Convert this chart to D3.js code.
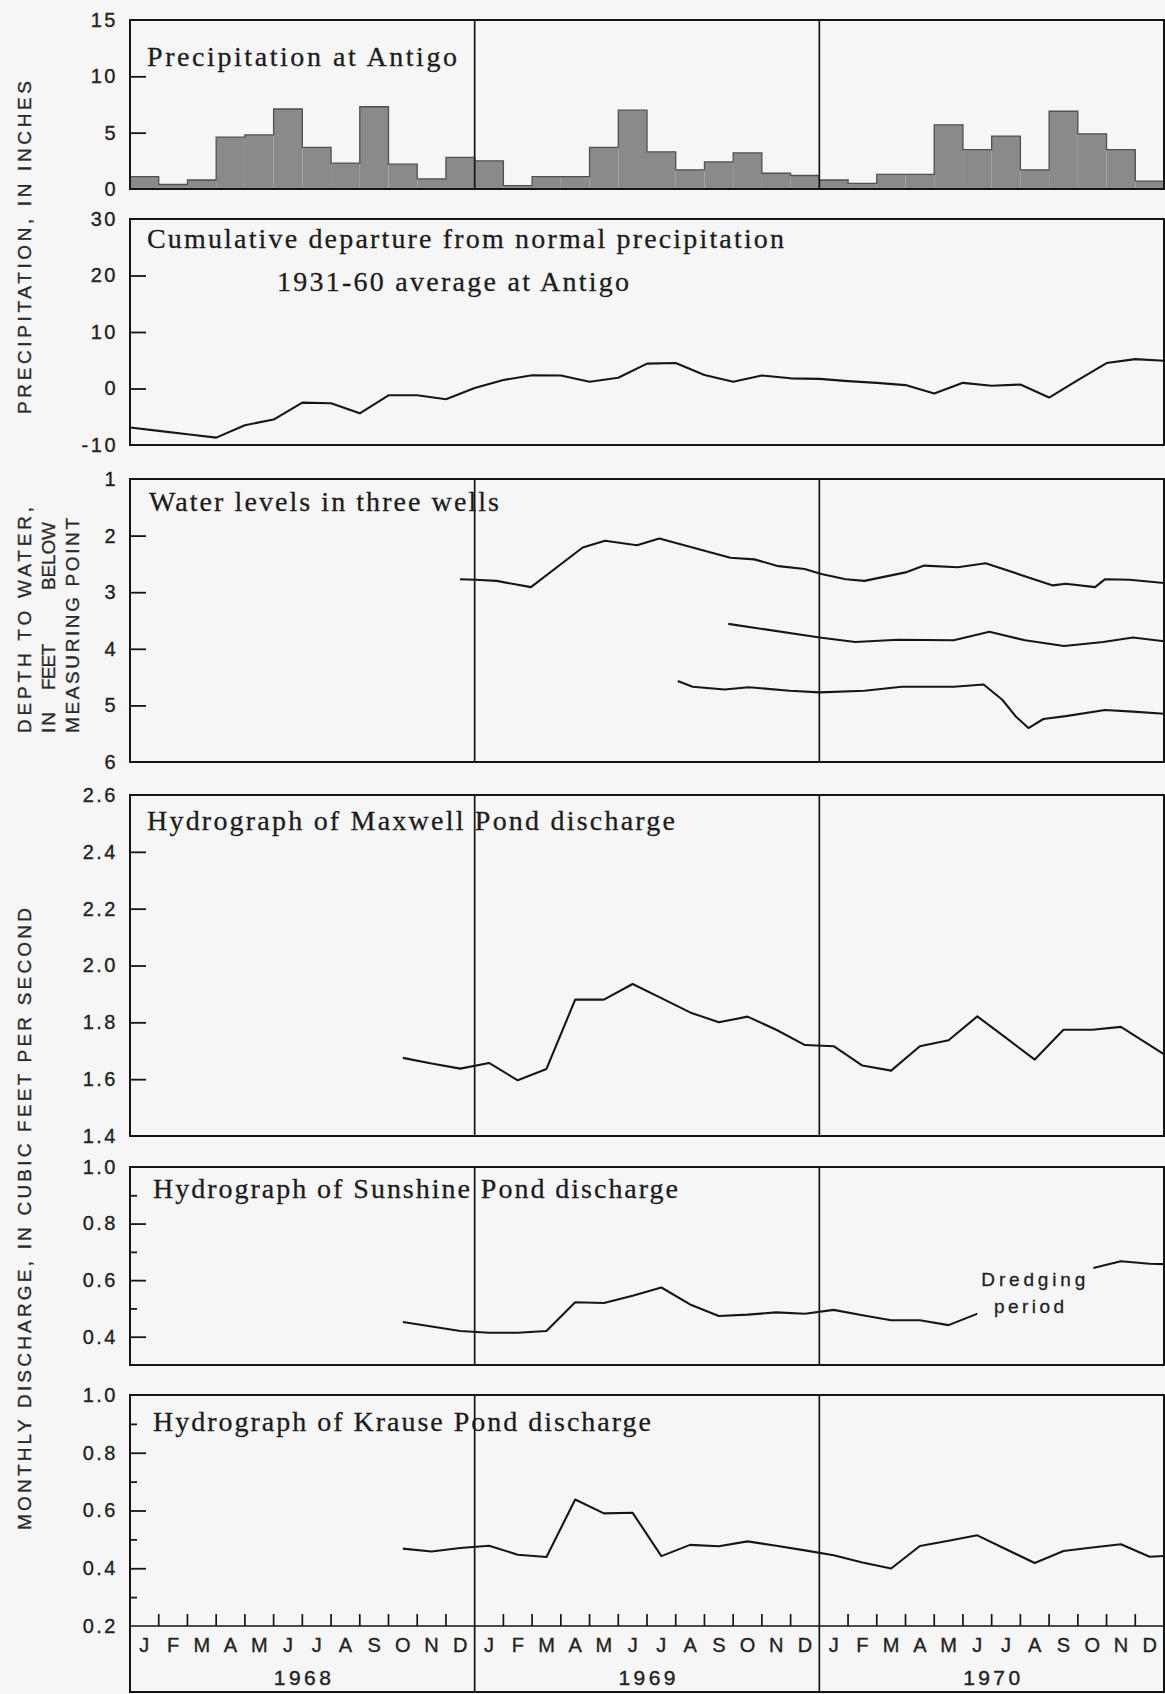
<!DOCTYPE html>
<meta charset="utf-8">
<style>

    body {
        margin: 0;
        background: #f6f6f6;
    }

    svg {
        display: block;
    }

    .frame {
        fill: none;
        stroke: #151515;
        stroke-width: 2;
    }

    .divider, .month-tick {
        stroke: #151515;
        stroke-width: 1.7;
    }

    .tick-marks line {
        stroke: #151515;
        stroke-width: 1.8;
    }

    .tick-labels text {
        font-family: "Liberation Sans", Arial, sans-serif;
        font-size: 20px;
        letter-spacing: 2.5px;
        fill: #222;
        stroke: #222;
        stroke-width: 0.35;
    }

    .bar {
        fill: #8a8a8a;
    }

    .bar-top {
        fill: none;
        stroke: #505050;
        stroke-width: 1.3;
    }

    .series {
        fill: none;
        stroke: #161616;
        stroke-width: 2.1;
        stroke-linejoin: round;
    }

    .title {
        font-family: "Liberation Serif", "Times New Roman", serif;
        font-size: 28px;
        fill: #1c1c1c;
        stroke: #1c1c1c;
        stroke-width: 0.3;
    }

    .axis-title {
        font-family: "Liberation Sans", Arial, sans-serif;
        font-size: 19px;
        fill: #2a2a2a;
        stroke: #2a2a2a;
        stroke-width: 0.35;
    }

    .month-label {
        font-family: "Liberation Sans", Arial, sans-serif;
        font-size: 20px;
        fill: #222;
        stroke: #222;
        stroke-width: 0.35;
    }

    .year-label {
        font-family: "Liberation Sans", Arial, sans-serif;
        font-size: 21px;
        fill: #222;
        stroke: #222;
        stroke-width: 0.4;
    }

    .note {
        font-family: "Liberation Sans", Arial, sans-serif;
        font-size: 19px;
        fill: #222;
        stroke: #222;
        stroke-width: 0.3;
    }

    .knockout {
        fill: #f6f6f6;
    }

</style>
<body>
<script src="https://d3js.org/d3.v7.min.js"></script>
<script>
    // month index 0 = January 1968, 36 = January 1971
    var monthLetters = ["J", "F", "M", "A", "M", "J", "J", "A", "S", "O", "N", "D"];
    var yearLabels = ["1968", "1969", "1970"];

    // monthly precipitation at Antigo, inches (Jan 1968 - Dec 1970)
    var precipInches = [
        1.1, 0.4, 0.8, 4.6, 4.8, 7.1, 3.7, 2.3, 7.3, 2.2, 0.9, 2.8,
        2.5, 0.3, 1.1, 1.1, 3.7, 7.0, 3.3, 1.7, 2.4, 3.2, 1.4, 1.2,
        0.8, 0.5, 1.3, 1.3, 5.7, 3.5, 4.7, 1.7, 6.9, 4.9, 3.5, 0.7
    ];

    // cumulative departure at end of each month (index 0 = 1 Jan 1968)
    var departureInches = [
        -6.9, -7.5, -8.1, -8.7, -6.5, -5.5, -2.5, -2.6, -4.4, -1.2, -1.2, -1.9,
        0.1, 1.5, 2.35, 2.3, 1.2, 1.9, 4.4, 4.5, 2.4, 1.2, 2.3, 1.8,
        1.7, 1.3, 1.0, 0.6, -0.9, 1.0, 0.5, 0.7, -1.6, 1.5, 4.5, 5.2, 4.9
    ];

    // wells: measurement time (month index) and depth to water (feet)
    var well1Time = [11.49, 12.03, 12.76, 13.96, 15.76, 16.54, 17.65, 18.43, 20.9, 21.74, 22.58, 23.49,
        24.07, 24.92, 25.57, 27.0, 27.65, 28.82, 29.79, 32.13, 32.58, 33.6, 33.95, 34.8, 36.06];
    var well1Depth = [2.77, 2.78, 2.80, 2.91, 2.21, 2.09, 2.17, 2.05, 2.39, 2.42, 2.54, 2.59,
        2.68, 2.77, 2.80, 2.65, 2.53, 2.56, 2.49, 2.88, 2.85, 2.91, 2.77, 2.78, 2.84];

    var well2Time = [20.83, 24.01, 25.25, 26.74, 28.68, 29.92, 31.16, 32.52, 33.88, 34.92, 36.06];
    var well2Depth = [3.56, 3.80, 3.88, 3.84, 3.85, 3.70, 3.85, 3.95, 3.88, 3.80, 3.87];

    var well3Time = [19.07, 19.59, 20.70, 21.54, 22.97, 24.01, 25.57, 26.87, 28.68, 29.72, 30.37, 30.83,
        31.28, 31.80, 32.58, 33.95, 34.92, 36.06];
    var well3Depth = [4.57, 4.67, 4.72, 4.68, 4.74, 4.77, 4.74, 4.67, 4.67, 4.63, 4.90, 5.19,
        5.40, 5.24, 5.19, 5.08, 5.11, 5.15];

    // monthly pond discharge, cfs, Oct 1968 - Jan 1971 (plotted mid-month)
    var dischargeFirstMonth = 9;
    var maxwellCfs = [1.675, 1.655, 1.637,
        1.657, 1.596, 1.636, 1.88, 1.88, 1.935, 1.885, 1.835, 1.80, 1.82, 1.774, 1.72,
        1.716, 1.648, 1.630, 1.716, 1.737, 1.821, 1.745, 1.669, 1.774, 1.774, 1.784, 1.72,
        1.655];
    var sunshineCfs = [0.452, 0.436, 0.42,
        0.414, 0.414, 0.42, 0.522, 0.519, 0.545, 0.574, 0.514, 0.473, 0.478, 0.486, 0.481,
        0.495, 0.476, 0.458, 0.458, 0.441, null, null, null, null, 0.642, 0.667, 0.658,
        0.655];
    var krauseCfs = [0.468, 0.458, 0.47,
        0.478, 0.447, 0.439, 0.638, 0.59, 0.592, 0.442, 0.481, 0.476, 0.493, 0.478, 0.462,
        0.445, 0.42, 0.399, 0.477, 0.495, 0.514, 0.466, 0.418, 0.46, 0.472, 0.483, 0.44,
        0.445];

    var width = 1165, height = 1694;
    var bottomEdge = 1692;

    var x = d3.scaleLinear()
            .domain([0, 36])
            .range([130, 1164]);

    var svg = d3.select("body").append("svg")
            .attr("width", width)
            .attr("height", height);

    var defs = svg.append("defs");

    function zip(a, b) {
        return a.map(function (d, i) { return [d, b[i]]; });
    }

    function monthly(values) {
        return values.map(function (v, i) { return [dischargeFirstMonth + i + 0.5, v]; })
                .filter(function (d) { return d[1] !== null; });
    }

    function addPanel(p) {
        var y = d3.scaleLinear().domain(p.domain).range(p.range);
        var top = Math.min(p.range[0], p.range[1]);
        var bottom = Math.max(p.range[0], p.range[1]);
        var frameBottom = p.frameBottom || bottom;

        var g = svg.append("g").attr("class", "panel " + p.id);

        defs.append("clipPath")
                .attr("id", "clip-" + p.id)
            .append("rect")
                .attr("x", x(0))
                .attr("y", top)
                .attr("width", x(36) - x(0))
                .attr("height", bottom - top);

        var plot = g.append("g")
                .attr("clip-path", "url(#clip-" + p.id + ")");

        if (p.dividers) {
            g.selectAll("line.divider")
                    .data([12, 24])
                .enter().append("line")
                    .attr("class", "divider")
                    .attr("x1", x)
                    .attr("x2", x)
                    .attr("y1", top)
                    .attr("y2", frameBottom);
        }

        g.append("g")
                .attr("class", "tick-marks")
                .attr("transform", "translate(" + x(0) + ",0)")
                .call(d3.axisRight(y).tickValues(p.major).tickSize(16).tickFormat(""))
                .call(function (a) { a.select(".domain").remove(); });

        if (p.minor) {
            g.append("g")
                    .attr("class", "tick-marks")
                    .attr("transform", "translate(" + x(0) + ",0)")
                    .call(d3.axisRight(y).tickValues(p.minor).tickSize(7).tickFormat(""))
                    .call(function (a) { a.select(".domain").remove(); });
        }

        g.append("g")
                .attr("class", "tick-labels")
                .attr("transform", "translate(" + x(0) + ",0)")
                .call(d3.axisLeft(y).tickValues(p.labels).tickSize(0).tickPadding(12).tickFormat(p.format))
                .call(function (a) {
                    a.select(".domain").remove();
                    a.attr("font-size", null).attr("font-family", null);
                });

        g.append("rect")
                .attr("class", "frame")
                .attr("x", x(0))
                .attr("y", top)
                .attr("width", x(36) - x(0))
                .attr("height", frameBottom - top);

        p.titles.forEach(function (t) {
            g.append("text")
                    .attr("class", "title")
                    .attr("x", t.x)
                    .attr("y", t.y)
                    .attr("textLength", t.len)
                    .attr("lengthAdjust", "spacing")
                    .text(t.text);
        });

        return {g: g, plot: plot, y: y};
    }

    var intFormat = function (d) { return String(d); };
    var oneDecimal = function (d) { return d.toFixed(1); };

    // --- precipitation bars
    var p1 = addPanel({
        id: "precip", domain: [0, 15], range: [189, 20], dividers: true,
        major: [5, 10], labels: [0, 5, 10, 15], format: intFormat,
        titles: [{text: "Precipitation at Antigo", x: 147, y: 66, len: 310}]
    });

    p1.plot.selectAll("rect.bar")
            .data(precipInches)
        .enter().append("rect")
            .attr("class", "bar")
            .attr("x", function (d, i) { return x(i); })
            .attr("width", function (d, i) { return x(i + 1) - x(i); })
            .attr("y", function (d) { return p1.y(d); })
            .attr("height", function (d) { return p1.y(0) - p1.y(d); });

    var stepData = precipInches.map(function (d, i) { return [i, d]; });
    stepData.push([36, precipInches[35]]);
    p1.plot.append("path")
            .attr("class", "bar-top")
            .attr("d", d3.line()
                .curve(d3.curveStepAfter)
                .x(function (d) { return x(d[0]); })
                .y(function (d) { return p1.y(d[1]); })(stepData));
    p1.g.selectAll(".divider").raise();

    // --- cumulative departure
    var p2 = addPanel({
        id: "departure", domain: [-10, 30], range: [445, 219], dividers: false,
        major: [0, 10, 20], labels: [-10, 0, 10, 20, 30], format: intFormat,
        titles: [
            {text: "Cumulative departure from normal precipitation", x: 147, y: 248, len: 637},
            {text: "1931-60 average at Antigo", x: 277, y: 291, len: 352}
        ]
    });

    p2.plot.append("path")
            .attr("class", "series")
            .attr("d", d3.line()
                .x(function (d, i) { return x(i); })
                .y(function (d) { return p2.y(d); })(departureInches));

    // --- water levels
    var p3 = addPanel({
        id: "wells", domain: [1, 6], range: [479, 762], dividers: true,
        major: [2, 3, 4, 5], labels: [1, 2, 3, 4, 5, 6], format: intFormat,
        titles: [{text: "Water levels in three wells", x: 149, y: 511, len: 350}]
    });

    var wellLine = d3.line()
            .x(function (d) { return x(d[0]); })
            .y(function (d) { return p3.y(d[1]); });

    p3.plot.selectAll("path.series")
            .data([zip(well1Time, well1Depth), zip(well2Time, well2Depth), zip(well3Time, well3Depth)])
        .enter().append("path")
            .attr("class", "series")
            .attr("d", wellLine);

    // --- Maxwell Pond
    var p4 = addPanel({
        id: "maxwell", domain: [1.4, 2.6], range: [1136, 795], dividers: true,
        major: [1.6, 1.8, 2.0, 2.2, 2.4], labels: [1.4, 1.6, 1.8, 2.0, 2.2, 2.4, 2.6], format: oneDecimal,
        titles: [{text: "Hydrograph of Maxwell Pond discharge", x: 147, y: 830, len: 528}]
    });

    p4.plot.append("path")
            .attr("class", "series")
            .attr("d", d3.line()
                .x(function (d) { return x(d[0]); })
                .y(function (d) { return p4.y(d[1]); })(monthly(maxwellCfs)));

    // --- Sunshine Pond
    var p5 = addPanel({
        id: "sunshine", domain: [0.3, 1.0], range: [1365, 1167], dividers: true,
        major: [0.4, 0.6, 0.8], minor: [0.5, 0.7, 0.9], labels: [0.4, 0.6, 0.8, 1.0], format: oneDecimal,
        titles: [{text: "Hydrograph of Sunshine Pond discharge", x: 153, y: 1198, len: 525}]
    });

    p5.plot.append("path")
            .attr("class", "series")
            .attr("d", d3.line()
                .x(function (d) { return x(d[0]); })
                .y(function (d) { return p5.y(d[1]); })(monthly(sunshineCfs)));

    var note = p5.g.append("g").attr("class", "note-group");
    var noteKnock = note.append("rect").attr("class", "knockout");
    note.append("text")
            .attr("class", "note")
            .attr("x", x(31.45))
            .attr("y", 1286)
            .attr("text-anchor", "middle")
            .attr("textLength", 104)
            .attr("lengthAdjust", "spacing")
            .text("Dredging");
    note.append("text")
            .attr("class", "note")
            .attr("x", x(31.3))
            .attr("y", 1313)
            .attr("text-anchor", "middle")
            .attr("textLength", 70)
            .attr("lengthAdjust", "spacing")
            .text("period");
    var nb = note.node().getBBox();
    noteKnock
            .attr("x", nb.x - 4)
            .attr("y", nb.y - 8)
            .attr("width", nb.width + 12)
            .attr("height", nb.height + 10);

    // --- Krause Pond
    var p6 = addPanel({
        id: "krause", domain: [0.2, 1.0], range: [1626, 1395], dividers: true, frameBottom: bottomEdge,
        major: [0.4, 0.6, 0.8], minor: [0.3, 0.5, 0.7, 0.9], labels: [0.2, 0.4, 0.6, 0.8, 1.0], format: oneDecimal,
        titles: [{text: "Hydrograph of Krause Pond discharge", x: 153, y: 1431, len: 498}]
    });

    p6.plot.append("path")
            .attr("class", "series")
            .attr("d", d3.line()
                .x(function (d) { return x(d[0]); })
                .y(function (d) { return p6.y(d[1]); })(monthly(krauseCfs)));

    // time axis under the last panel
    var baseY = p6.y(0.2);
    p6.g.append("line")
            .attr("class", "divider")
            .attr("x1", x(0))
            .attr("x2", x(36))
            .attr("y1", baseY)
            .attr("y2", baseY);

    var monthIdx = d3.range(1, 36).filter(function (m) { return m % 12 !== 0; });
    p6.g.selectAll("line.month-tick")
            .data(monthIdx)
        .enter().append("line")
            .attr("class", "month-tick")
            .attr("x1", x)
            .attr("x2", x)
            .attr("y1", baseY)
            .attr("y2", baseY - 12);

    p6.g.selectAll("text.month-label")
            .data(d3.range(36))
        .enter().append("text")
            .attr("class", "month-label")
            .attr("x", function (m) { return x(m + 0.5); })
            .attr("y", 1652)
            .attr("text-anchor", "middle")
            .text(function (m) { return monthLetters[m % 12]; });

    p6.g.selectAll("text.year-label")
            .data(yearLabels)
        .enter().append("text")
            .attr("class", "year-label")
            .attr("x", function (d, i) { return x(i * 12 + 6); })
            .attr("y", 1685)
            .attr("text-anchor", "middle")
            .attr("textLength", 57)
            .attr("lengthAdjust", "spacing")
            .text(function (d) { return d; });

    // rotated axis titles
    function sideTitle(text, cx, startY, len) {
        svg.append("text")
                .attr("class", "axis-title")
                .attr("transform", "translate(" + cx + "," + startY + ") rotate(-90)")
                .attr("dy", "0.36em")
                .attr("textLength", len)
                .attr("lengthAdjust", "spacing")
                .text(text);
    }

    sideTitle("PRECIPITATION, IN INCHES", 24, 414, 333);
    sideTitle("DEPTH TO WATER,", 24, 733, 226);
    sideTitle("MEASURING POINT", 72, 733, 215);
    sideTitle("IN", 48, 733, 21);
    sideTitle("FEET", 48, 690, 46);
    sideTitle("BELOW", 48, 590, 68);
    sideTitle("MONTHLY DISCHARGE, IN CUBIC FEET PER SECOND", 24, 1530, 622);

</script>
